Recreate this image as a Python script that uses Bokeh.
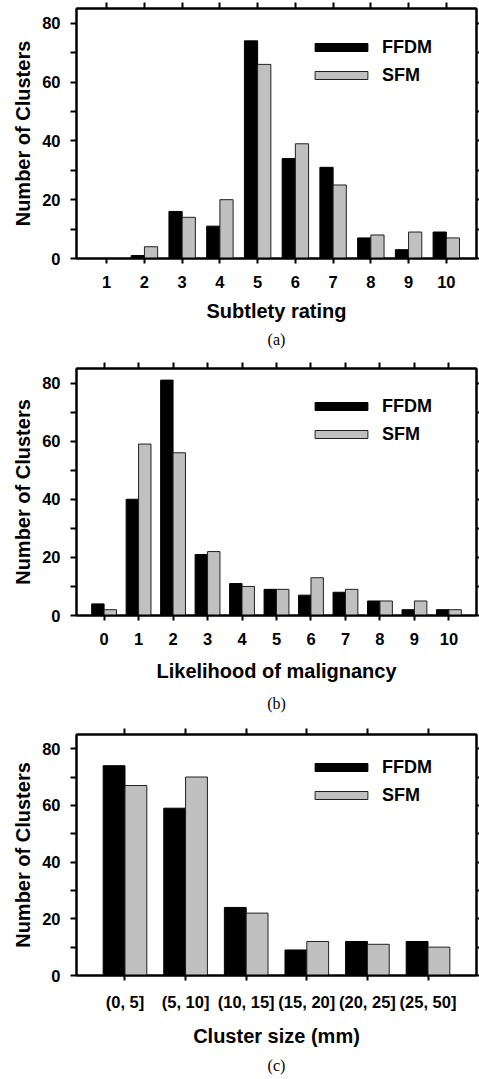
from bokeh.plotting import figure
from bokeh.layouts import column
from bokeh.models import (ColumnDataSource, FixedTicker, LinearAxis, Range1d,
                          Title, Legend, LegendItem, CustomLabelingPolicy)
from bokeh.transform import dodge
from bokeh.embed import file_html
from bokeh.resources import INLINE

# ---------------- data ----------------
subtlety_labels = ["1", "2", "3", "4", "5", "6", "7", "8", "9", "10"]
subtlety_ffdm = [0, 1, 16, 11, 74, 34, 31, 7, 3, 9]
subtlety_sfm = [0, 4, 14, 20, 66, 39, 25, 8, 9, 7]

malig_labels = ["0", "1", "2", "3", "4", "5", "6", "7", "8", "9", "10"]
malig_ffdm = [4, 40, 81, 21, 11, 9, 7, 8, 5, 2, 2]
malig_sfm = [2, 59, 56, 22, 10, 9, 13, 9, 5, 5, 2]

size_labels = ["(0, 5]", "(5, 10]", "(10, 15]", "(15, 20]", "(20, 25]", "(25, 50]"]
size_ffdm = [74, 59, 24, 9, 12, 12]
size_sfm = [67, 70, 22, 12, 11, 10]

y_major = [0, 20, 40, 60, 80]
y_minor = [10, 30, 50, 70]

SANS = "Liberation Sans"
SERIF = "Liberation Serif"

HIDE_CODE = """
for (let i = 0; i < indices.size; i++) { indices.unset(i) }
return indices
"""


def tick_only_axis(ticks, tick_out):
    ax = LinearAxis(ticker=FixedTicker(ticks=ticks, minor_ticks=[]))
    ax.axis_line_width = 2
    ax.axis_line_color = "black"
    ax.major_tick_line_width = 2
    ax.major_tick_line_color = "black"
    ax.major_tick_in = 0
    ax.major_tick_out = tick_out
    ax.minor_tick_in = 0
    ax.minor_tick_out = 0
    ax.major_label_text_font_size = "1px"
    ax.major_label_standoff = 0
    ax.major_label_overrides = {t: "" for t in ticks}
    ax.major_label_policy = CustomLabelingPolicy(code=HIDE_CODE)
    return ax


def make_panel(labels, ffdm, sfm, first, xlabel, caption, H, top, fh,
               bw, als, cap_standoff):
    xs = [first + i for i in range(len(labels))]
    x0 = xs[0] - 0.8
    x1 = xs[-1] + 0.8
    p = figure(width=479, height=H, x_range=Range1d(x0, x1), y_range=Range1d(0, 85),
               output_backend="svg", toolbar_location=None,
               min_border_left=76, min_border_right=3, min_border_top=top,
               min_border_bottom=H - top - fh,
               x_axis_location=None, y_axis_location=None)
    p.grid.visible = False
    p.outline_line_color = "black"
    p.outline_line_width = 2
    p.background_fill_color = "white"
    p.border_fill_color = "white"

    src = ColumnDataSource(dict(x=xs, ffdm=ffdm, sfm=sfm))
    r1 = p.vbar(x=dodge("x", -bw / 2, range=p.x_range), top="ffdm", width=bw,
                source=src, fill_color="black", line_color="black", line_width=1)
    r2 = p.vbar(x=dodge("x", bw / 2, range=p.x_range), top="sfm", width=bw,
                source=src, fill_color="#c0c0c0", line_color="#202020", line_width=1)

    # bottom axis
    bot = LinearAxis(ticker=FixedTicker(ticks=xs, minor_ticks=[]),
                     major_label_overrides={x: l for x, l in zip(xs, labels)})
    bot.axis_line_width = 2
    bot.major_tick_line_width = 2
    bot.major_tick_in = 0
    bot.major_tick_out = 5
    bot.minor_tick_in = 0
    bot.minor_tick_out = 0
    bot.major_label_text_font = SANS
    bot.major_label_text_font_style = "bold"
    bot.major_label_text_font_size = "16.5px"
    bot.major_label_text_color = "black"
    bot.major_label_standoff = 12
    bot.axis_label = xlabel
    bot.axis_label_text_font = SANS
    bot.axis_label_text_font_style = "bold"
    bot.axis_label_text_font_size = "20px"
    bot.axis_label_text_color = "black"
    bot.axis_label_standoff = als
    p.add_layout(bot, "below")

    # left axis
    left = LinearAxis(ticker=FixedTicker(ticks=y_major, minor_ticks=y_minor))
    left.axis_line_width = 2
    left.major_tick_line_width = 2
    left.minor_tick_line_width = 2
    left.major_tick_in = 0
    left.major_tick_out = 6
    left.minor_tick_in = 0
    left.minor_tick_out = 6
    left.major_label_text_font = SANS
    left.major_label_text_font_style = "bold"
    left.major_label_text_font_size = "16.5px"
    left.major_label_text_color = "black"
    left.major_label_standoff = 10
    left.axis_label = "Number of Clusters"
    left.axis_label_text_font = SANS
    left.axis_label_text_font_style = "bold"
    left.axis_label_text_font_size = "20px"
    left.axis_label_text_color = "black"
    left.axis_label_standoff = 5
    p.add_layout(left, "left")

    # top / right axes: ticks only
    p.add_layout(tick_only_axis(xs, 6), "above")
    p.add_layout(tick_only_axis(sorted(y_major + y_minor), 3), "right")

    legend = Legend(items=[LegendItem(label="FFDM", renderers=[r1]),
                           LegendItem(label="SFM", renderers=[r2])],
                    location=(232, fh - 77.5))
    legend.padding = 0
    legend.margin = 0
    legend.spacing = 7
    legend.border_line_color = None
    legend.background_fill_alpha = 0
    legend.glyph_width = 66
    legend.glyph_height = 10
    legend.label_height = 21
    legend.label_standoff = 8
    legend.label_text_font = SANS
    legend.label_text_font_style = "bold"
    legend.label_text_font_size = "18px"
    legend.label_text_color = "black"
    p.add_layout(legend)

    cap = Title(text=caption, align="center", text_font=SERIF,
                text_font_size="16px", text_font_style="normal",
                text_color="black", standoff=cap_standoff)
    p.add_layout(cap, "below")
    return p


pa = make_panel(subtlety_labels, subtlety_ffdm, subtlety_sfm, 1,
                "Subtlety rating", "(a)", 358, 8, 250, 0.35, 9, 8)
pb = make_panel(malig_labels, malig_ffdm, malig_sfm, 0,
                "Likelihood of malignancy", "(b)", 362, 10, 248, 0.36, 12, 17)
pc = make_panel(size_labels, size_ffdm, size_sfm, 1,
                "Cluster size (mm)", "(c)", 359, 14, 247, 0.36, 11, 11)

layout = column(pa, pb, pc, spacing=0)
open("out.html", "w").write(file_html(layout, INLINE))
